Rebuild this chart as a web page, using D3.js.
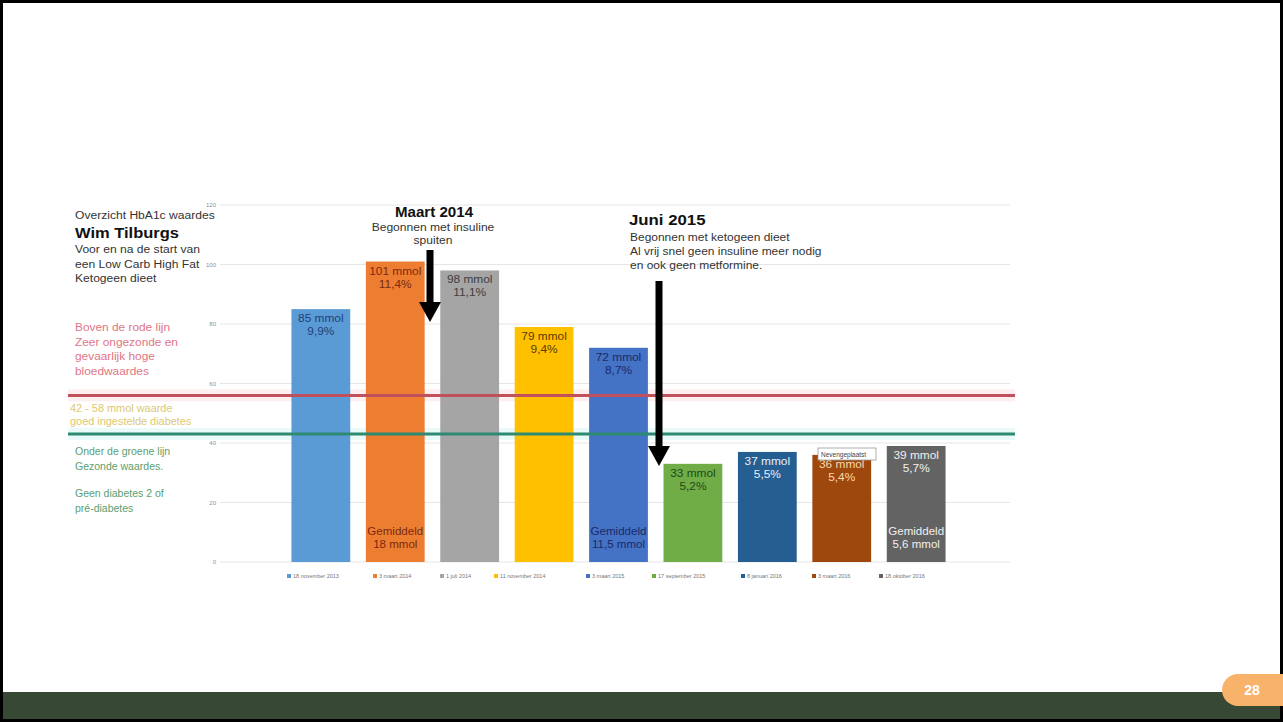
<!DOCTYPE html>
<html><head><meta charset="utf-8">
<script src="https://cdn.jsdelivr.net/npm/d3@7"></script>
<style>
html,body{margin:0;padding:0;background:#fff;}
svg{display:block;font-family:"Liberation Sans",Arial,sans-serif;}
</style></head>
<body><svg id="c" width="1283" height="722"></svg>
<script>
const categories = ["18 november 2013","3 maart 2014","1 juli 2014","11 november 2014","3 maart 2015","17 september 2015","8 januari 2016","3 maart 2016","18 oktober 2016"];
const values = [85,101,98,79,72,33,37,36,39];
const pctLabels = ["9,9%","11,4%","11,1%","9,4%","8,7%","5,2%","5,5%","5,4%","5,7%"];
const avgLabels = [null,["Gemiddeld","18 mmol"],null,null,["Gemiddeld","11,5 mmol"],null,null,null,["Gemiddeld","5,6 mmol"]];
const colors = ["#5B9BD5","#ED7D31","#A5A5A5","#FFC000","#4472C4","#70AD47","#255E91","#9E480E","#636363"];
const labelColors = ["#1f3f7a","#7a2a10","#404040","#5a3a00","#1a2a6a","#1f4a1a","#e8eef8","#f8d8b0","#f0f0f0"];
const yTicks = [0,20,40,60,80,100,120];
const redLine = 56, greenLine = 43;

const svg = d3.select("#c");
// slide frame
svg.append("rect").attr("x",0).attr("y",0).attr("width",1283).attr("height",722).attr("fill","#fff");
svg.append("rect").attr("x",3).attr("y",692).attr("width",1280).attr("height",27).attr("fill","#374935");
svg.append("rect").attr("x",1.5).attr("y",1.5).attr("width",1280).attr("height",719).attr("fill","none").attr("stroke","#000").attr("stroke-width",3);
svg.append("path").attr("d","M1238,674 H1283 V706 H1238 A16,16 0 0 1 1238,674 Z").attr("fill","#F8B26A");
svg.append("text").attr("x",1252).attr("y",695).attr("text-anchor","middle").attr("fill","#fff").attr("font-size",14).attr("font-weight","bold").text("28");

const y = d3.scaleLinear().domain([0,120]).range([562,205]);
const x = d3.scaleBand().domain(categories).range([284,953]).paddingInner(0.21).paddingOuter(0.1);

// gridlines
svg.append("g").selectAll("line").data(yTicks).join("line")
  .attr("x1",220).attr("x2",1010).attr("y1",d=>y(d)).attr("y2",d=>y(d))
  .attr("stroke","#e6e6e6").attr("stroke-width",1);
const yAxis = d3.axisLeft(y).tickValues(yTicks).tickSize(0).tickPadding(4);
const ga = svg.append("g").attr("transform","translate(220,0)").call(yAxis);
ga.select(".domain").remove();
ga.selectAll("text").attr("fill","#909090").attr("font-size",6);

// glow under lines
svg.append("rect").attr("x",68).attr("y",y(redLine)-6).attr("width",947).attr("height",12).attr("fill","#fdeef0");
svg.append("rect").attr("x",68).attr("y",y(greenLine)-6).attr("width",947).attr("height",12).attr("fill","#eafaf8");

// bars
svg.append("g").selectAll("rect").data(values).join("rect")
  .attr("x",(d,i)=>x(categories[i])).attr("width",x.bandwidth())
  .attr("y",d=>y(d)).attr("height",d=>y(0)-y(d))
  .attr("fill",(d,i)=>colors[i]);

// reference lines
svg.append("line").attr("x1",68).attr("x2",1015).attr("y1",y(redLine)).attr("y2",y(redLine)).attr("stroke","#c0505c").attr("stroke-width",3);
svg.append("line").attr("x1",68).attr("x2",1015).attr("y1",y(greenLine)).attr("y2",y(greenLine)).attr("stroke","#2f8a72").attr("stroke-width",3);

// helper for stretched text
function st(g,xx,yy,t,opts){
  opts=opts||{};
  const e=g.append("text").attr("transform",`translate(${xx},${yy}) scale(${opts.sx||1},1)`).text(t);
  if(opts.size) e.attr("font-size",opts.size);
  if(opts.fill) e.attr("fill",opts.fill);
  if(opts.bold) e.attr("font-weight","bold");
  if(opts.anchor) e.attr("text-anchor",opts.anchor);
  return e;
}

// labels
const lg = svg.append("g").attr("font-size",11).attr("text-anchor","middle");
values.forEach((v,i)=>{
  const cx = x(categories[i])+x.bandwidth()/2;
  st(lg,cx,y(v)+13,v+" mmol",{fill:labelColors[i],sx:1.08});
  st(lg,cx,y(v)+26,pctLabels[i],{fill:labelColors[i],sx:1.08});
  if(avgLabels[i]){
    st(lg,cx,y(0)-27,avgLabels[i][0],{fill:labelColors[i],sx:1.05});
    st(lg,cx,y(0)-14,avgLabels[i][1],{fill:labelColors[i],sx:1.05});
  }
});

// left texts
const tx = svg.append("g").attr("font-size",10.5);
st(tx,75,219,"Overzicht HbA1c waardes",{fill:"#333",size:11,sx:1.1});
st(tx,75,238,"Wim Tilburgs",{fill:"#111",size:15,bold:true,sx:1.1});
["Voor en na de start van","een Low Carb High Fat","Ketogeen dieet"].forEach((t,i)=>st(tx,75,253+i*14.5,t,{fill:"#333",size:11,sx:1.1}));
["Boven de rode lijn","Zeer ongezonde en","gevaarlijk hoge","bloedwaardes"].forEach((t,i)=>st(tx,75,331+i*14.5,t,{fill:"#e07585",size:11,sx:1.08}));
["42 - 58 mmol waarde","goed ingestelde diabetes"].forEach((t,i)=>st(tx,70,412+i*13,t,{fill:"#ddc870",size:10.5,sx:1.04}));
["Onder de groene lijn","Gezonde waardes."].forEach((t,i)=>st(tx,75,455+i*14.5,t,{fill:"#5aa070"}));
["Geen diabetes 2 of","pré-diabetes"].forEach((t,i)=>st(tx,75,497+i*14.5,t,{fill:"#5aa070"}));

// annotations
const an = svg.append("g").attr("fill","#111");
st(an,434,217,"Maart 2014",{anchor:"middle",size:14,bold:true,sx:1.08});
st(an,433,231,"Begonnen met insuline",{anchor:"middle",size:10.5,fill:"#333",sx:1.15});
st(an,433,244,"spuiten",{anchor:"middle",size:10.5,fill:"#333",sx:1.15});
st(an,629,225,"Juni 2015",{size:15,bold:true,sx:1.12});
["Begonnen met ketogeen dieet","Al vrij snel geen insuline meer nodig","en ook geen metformine."].forEach((t,i)=>st(an,630,241+i*14,t,{size:10.5,fill:"#333",sx:1.14}));
function arrow(xc,y1,y2){
  an.append("rect").attr("x",xc-3.5).attr("y",y1).attr("width",7).attr("height",y2-y1-18).attr("fill","#000");
  an.append("path").attr("d",`M${xc-11},${y2-20} L${xc+11},${y2-20} L${xc},${y2} Z`).attr("fill","#000");
}
arrow(430,250,322);
arrow(659,281,466);

// tooltip artifact
svg.append("rect").attr("x",818).attr("y",448).attr("width",58).attr("height",12).attr("fill","#fff").attr("stroke","#999").attr("stroke-width",0.8);
svg.append("text").attr("x",821).attr("y",457).attr("font-size",6.5).attr("fill","#444").text("Nevengeplaatst");

// legend
const legX = [287,373,440,494,586,652,741,812,879];
const leg = svg.append("g").attr("font-size",5.5).attr("fill","#777");
categories.forEach((c,i)=>{
  leg.append("rect").attr("x",legX[i]).attr("y",574).attr("width",4).attr("height",4).attr("fill",colors[i]);
  leg.append("text").attr("x",legX[i]+6).attr("y",578).text(c);
});
</script></body></html>
